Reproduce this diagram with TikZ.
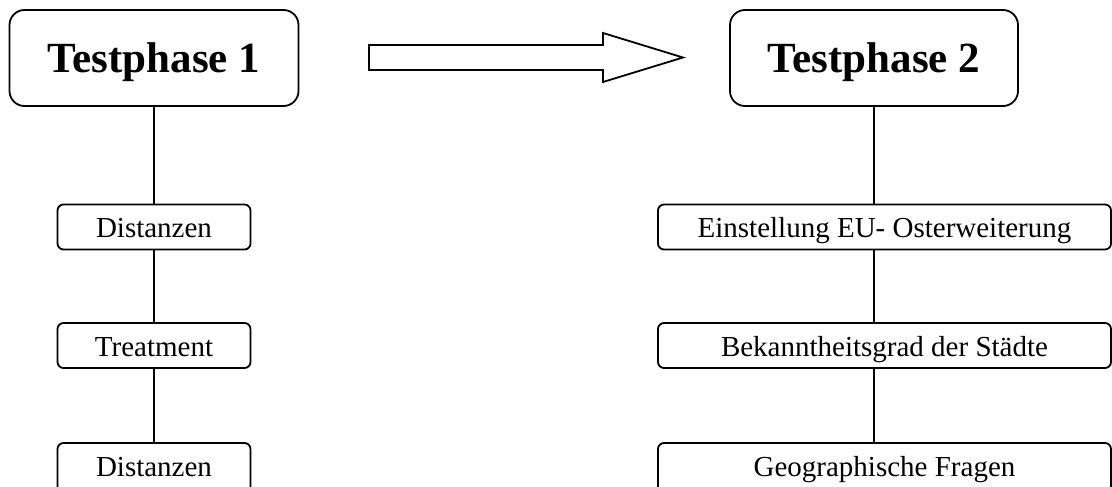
\documentclass[tikz,border=0pt]{standalone}
\usepackage{fontspec}
\setmainfont{Liberation Serif}
\begin{document}
\begin{tikzpicture}[x=1pt,y=-1pt,
  line width=1.8pt,
  phasebox/.style={draw, rounded corners=15pt, inner sep=0pt,
    minimum width=289pt, minimum height=96pt,
    text height=30pt, text depth=0pt,
    font=\bfseries\fontsize{43}{50}\selectfont},
  itembox/.style={draw, rounded corners=6pt, inner sep=0pt,
    minimum height=45pt, text height=21pt, text depth=0pt,
    font=\fontsize{29}{34}\selectfont},
  leftitem/.style={itembox, minimum width=193pt},
  rightitem/.style={itembox, minimum width=453pt},
  lastitem/.style={minimum height=57pt, text depth=10.6pt},
  link/.style={draw, line width=1.8pt}]
\clip (0,0) rectangle (1112,487);

% phase headers
\node[phasebox] (p1) at (154,58) {Testphase 1};
\node[phasebox, minimum width=288pt] (p2) at (874,58) {Testphase 2};

% block arrow between the phases
\coordinate (a0) at (369,45);
\draw (a0) -- (603,45) -- (603,33) -- (683,57.5) -- (603,82) -- (603,70) -- (369,70) -- cycle;

% phase 1 steps
\node[leftitem] (l1) at (154,227) {Distanzen};
\node[leftitem] (l2) at (154,345.5) {Treatment};
\node[leftitem, lastitem] (l3) at (154,471.5) {Distanzen};

% phase 2 steps
\node[rightitem] (r1) at (884.5,227) {Einstellung EU- Osterweiterung};
\node[rightitem] (r2) at (884.5,345.5) {Bekanntheitsgrad der Städte};
\node[rightitem, lastitem] (r3) at (884.5,471.5) {Geographische Fragen};

% connectors
\draw[link] (p1.south) -- (p1.south |- l1.north);
\draw[link] (p1.south |- l1.south) -- (p1.south |- l2.north);
\draw[link] (p1.south |- l2.south) -- (p1.south |- l3.north);
\draw[link] (p2.south) -- (p2.south |- r1.north);
\draw[link] (p2.south |- r1.south) -- (p2.south |- r2.north);
\draw[link] (p2.south |- r2.south) -- (p2.south |- r3.north);
\end{tikzpicture}
\end{document}
